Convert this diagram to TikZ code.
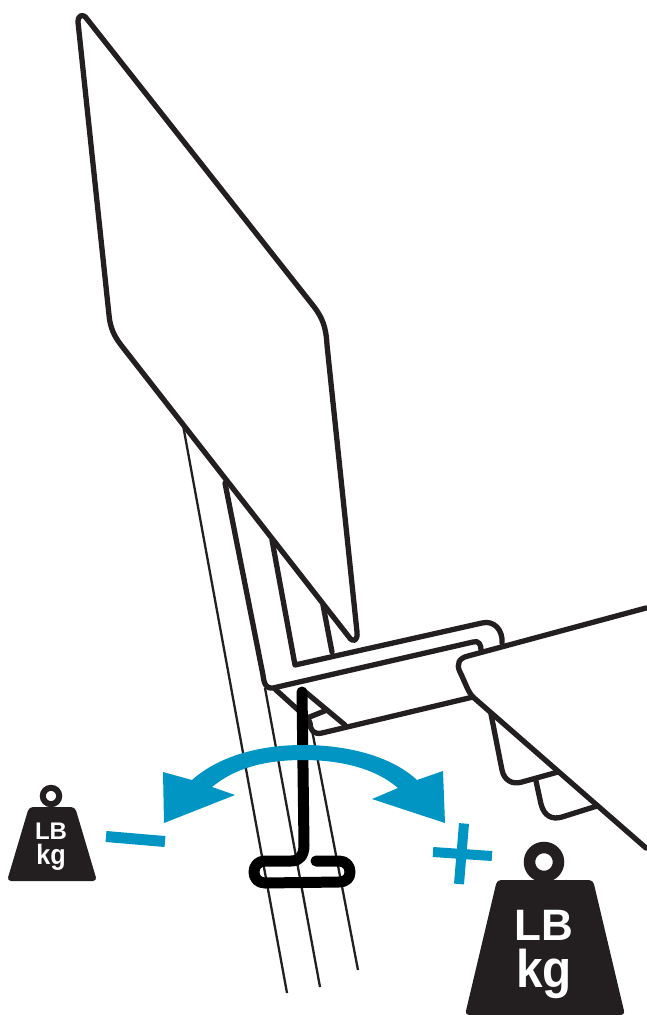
\documentclass[tikz,border=0pt]{standalone}
\usepackage{fontspec}
\setmainfont{Liberation Sans}
\definecolor{ink}{HTML}{231F20}
\definecolor{wave}{HTML}{0095C3}
\tikzset{
	part/.style={draw=ink,line width=5.3pt,line join=round,line cap=round},
	thinleg/.style={draw=ink,line width=2.3pt},
	weight/.style={fill=ink,rounded corners=4pt},
	bigtext/.style={text=white,font=\bfseries\fontsize{44}{44}\selectfont,anchor=base},
	bigkg/.style={text=white,font=\bfseries\fontsize{53}{53}\selectfont,anchor=base,xscale=.9},
	smalltext/.style={text=white,font=\bfseries\fontsize{24}{24}\selectfont,anchor=base},
	smallkg/.style={text=white,font=\bfseries\fontsize{28}{28}\selectfont,anchor=base,xscale=.9}
}
\begin{document}
\begin{tikzpicture}[x=1pt,y=-1pt]
	\useasboundingbox (0,0) rectangle (646,1015);
	% thin legs
	\draw[thinleg] (183,425) -- (287,993);
	\draw[thinleg] (265,688) -- (320,987);
	\draw[thinleg] (312,730) -- (358,970);
	% panel
	\draw[part] (78,22) .. controls (78,15) and (83,13) .. (87,19) -- (315,308)
		.. controls (322,318) and (326,326) .. (327,345) -- (357,632)
		.. controls (358,641) and (353,643) .. (349,637) -- (121,345)
		.. controls (114,336) and (110,327) .. (109,315) -- cycle;
	% uprights and bracket
	\draw[part] (225,483) -- (263,675) .. controls (264,685) and (267,689) .. (273,688) -- (473,642)
		.. controls (479,640) and (481,645) .. (481,650);
	\draw[part] (272,540) -- (295,665) -- (482,623)
		.. controls (494,620) and (503,630) .. (502,643);
	\draw[part] (323,605) -- (332,652);
	% seat
	\draw[part] (646,608) -- (468,656) .. controls (459,658) and (456,664) .. (460,672)
		.. controls (465,682) and (468,692) .. (473,697) -- (646,848);
	\draw[part] (473,697) -- (322,733) .. controls (314,735) and (310,730) .. (310,723)
		.. controls (309,720) and (308,719) .. (307,718) -- (327,710);
	\draw[part] (275,689) -- (307,718);
	\draw[part] (303,690) -- (345,725);
	% seat feet
	\draw[part] (491,714) -- (502,770) .. controls (504,780) and (512,785) .. (522,782) -- (558,772);
	\draw[part] (536,781) -- (541,804) .. controls (544,816) and (552,820) .. (562,817) -- (597,806);
	% key
	\draw[line width=11pt,line cap=round,line join=round] (302,692) -- (304,845)
		.. controls (304,855) and (300,861) .. (291,861) -- (265,861)
		.. controls (258,861) and (254,866) .. (254,872) .. controls (254,878) and (258,883) .. (265,883)
		-- (339,882) .. controls (346,882) and (350,878) .. (350,872)
		.. controls (350,866) and (346,861) .. (339,861) -- (316,861);
	% arrow
	\fill[wave] (163,772) -- (192,780) .. controls (220,755) and (262,745) .. (303,745)
		.. controls (345,745) and (390,755) .. (417,780) -- (443,771) -- (445,823) -- (372,799) -- (398,788)
		.. controls (375,768) and (340,760) .. (303,760) .. controls (265,760) and (235,768) .. (212,787)
		-- (235,795) -- (164,823) -- cycle;
	% minus and plus
	\draw[wave,line width=11pt] (106,836.5) -- (165,841.5);
	\draw[wave,line width=10pt] (464,823.5) -- (459,884);
	\draw[wave,line width=10pt] (433,852) -- (492,856);
	% small weight
	\draw[ink,line width=6pt] (51,796) circle (8.2);
	\path[weight] (29,807) -- (75,807) -- (97,881) -- (7,881) -- cycle;
	\node[smalltext] (smalllb) at (51,839) {LB};
	\node[smallkg] (smallkg) at (51,864) {kg};
	% big weight
	\draw[ink,line width=11.5pt] (544,862) circle (14.5);
	\path[weight] (497,880) -- (593,880) -- (625,1015) -- (465,1015) -- cycle;
	\node[bigtext] (biglb) at (544,940) {LB};
	\node[bigkg] (bigkg) at (544,987) {kg};
\end{tikzpicture}
\end{document}
